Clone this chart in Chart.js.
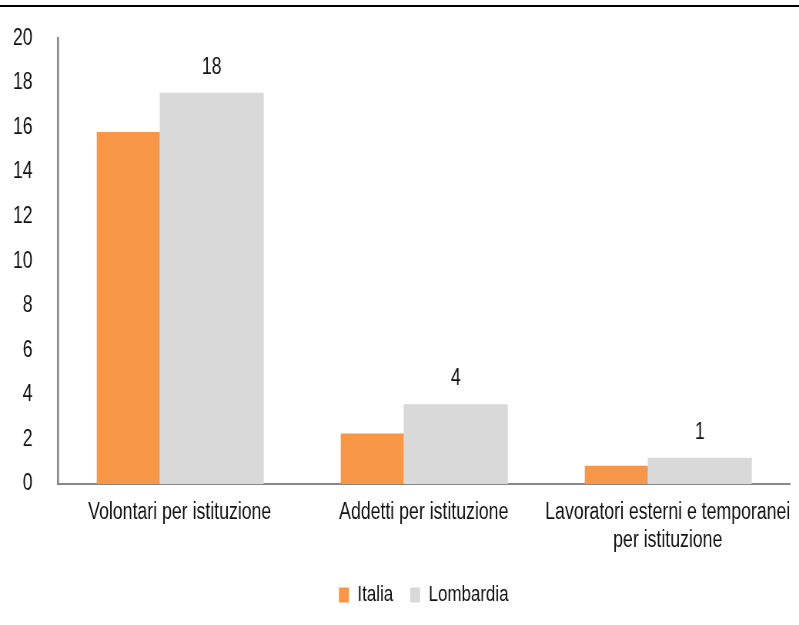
<!DOCTYPE html>
<html>
<head>
<meta charset="utf-8">
<script src="https://cdn.jsdelivr.net/npm/chart.js@4/dist/chart.umd.min.js"></script>
<style>
  html, body { margin: 0; padding: 0; background: #fff; overflow: hidden; }
  #wrap { position: relative; width: 799px; height: 625px; overflow: hidden; }
  #topline { position: absolute; left: 0; top: 5px; width: 799px; height: 2px; background: #000; }
  /* the source chart uses a narrow face: draw wide, squeeze horizontally */
  #chart { position: absolute; left: 0; top: 0; transform: scaleX(0.76975); transform-origin: 0 0; }
</style>
</head>
<body>
<div id="wrap">
  <canvas id="chart" width="1038" height="625"></canvas>
  <div id="topline"></div>
</div>
<script>
// Data
const categories = [
  "Volontari per istituzione",
  "Addetti per istituzione",
  ["Lavoratori esterni e temporanei", "per istituzione"]
];
const italia = [15.8, 2.27, 0.82];
const lombardia = [17.56, 3.58, 1.18];
const yTicks = { min: 0, max: 20, step: 2 };

const FONT = "'Liberation Sans', Arial, sans-serif";
const TEXT = "#111";
const AXIS = "#878787";

// Value labels above the Lombardia bars only
const valueLabels = {
  id: "valueLabels",
  afterDatasetsDraw(chart) {
    const ctx = chart.ctx;
    const meta = chart.getDatasetMeta(1);
    ctx.save();
    ctx.font = "23px " + FONT;
    ctx.fillStyle = TEXT;
    ctx.textAlign = "center";
    ctx.textBaseline = "alphabetic";
    meta.data.forEach((bar, i) => {
      ctx.fillText(Math.round(lombardia[i]), bar.x, bar.y - 19);
    });
    ctx.restore();
  }
};

const ctx = document.getElementById("chart").getContext("2d");

new Chart(ctx, {
  type: "bar",
  data: {
    labels: categories,
    datasets: [
      {
        label: "Italia",
        data: italia,
        backgroundColor: "#F79646",
        categoryPercentage: 0.844,
        barPercentage: 0.612
      },
      {
        label: "Lombardia",
        data: lombardia,
        backgroundColor: "#D9D9D9",
        categoryPercentage: 0.525,
        barPercentage: 1.625
      }
    ]
  },
  options: {
    responsive: false,
    animation: false,
    layout: {
      padding: { top: 36, right: 12, bottom: 9, left: 0 }
    },
    scales: {
      x: {
        grid: { display: false },
        border: { display: true, color: AXIS, width: 2 },
        ticks: {
          color: TEXT,
          font: { family: FONT, size: 23, lineHeight: 1.25 },
          maxRotation: 0,
          autoSkip: false,
          padding: 6
        },
        afterFit(scale) { scale.height = 78; }
      },
      y: {
        min: yTicks.min,
        max: yTicks.max,
        grid: { display: false },
        border: { display: true, color: AXIS, width: 2.6 },
        ticks: {
          stepSize: yTicks.step,
          color: TEXT,
          font: { family: FONT, size: 23 },
          padding: 24.7
        },
        afterFit(scale) { scale.width = 75; }
      }
    },
    plugins: {
      legend: {
        position: "bottom",
        fullSize: false,
        labels: {
          color: TEXT,
          font: { family: FONT, size: 22 },
          boxWidth: 13,
          boxHeight: 15,
          padding: 22
        }
      },
      tooltip: { enabled: false }
    }
  },
  plugins: [valueLabels]
});
</script>
</body>
</html>
